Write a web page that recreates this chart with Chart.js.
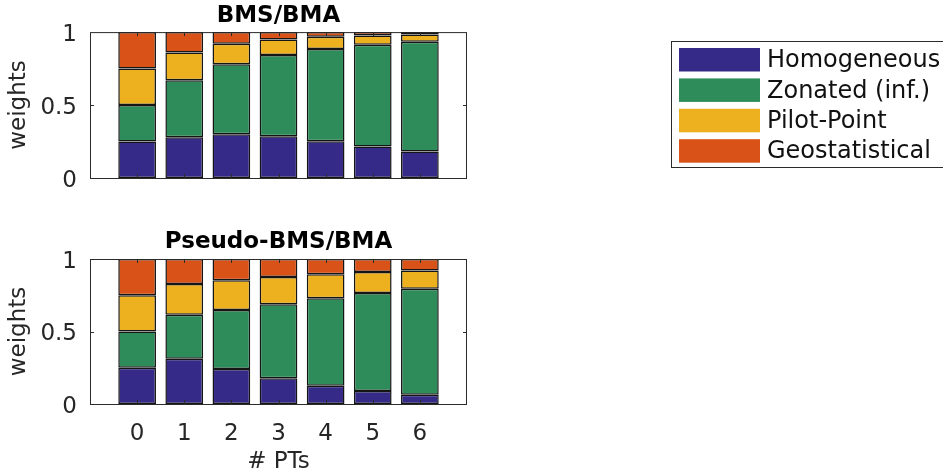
<!DOCTYPE html>
<html>
<head>
<meta charset="utf-8">
<script src="https://cdn.jsdelivr.net/npm/chart.js@4"></script>
<style>
  html, body { margin: 0; padding: 0; background: #fff; }
  #wrap { position: relative; width: 943px; height: 474px; overflow: hidden; }
  canvas { position: absolute; left: 0; }
</style>
</head>
<body>
<div id="wrap">
  <canvas id="bms" width="943" height="200" style="top:0"></canvas>
  <canvas id="pseudo" width="943" height="274" style="top:200px"></canvas>
</div>
<script>
const numPTs = [0, 1, 2, 3, 4, 5, 6];
const modelNames = ['Homogeneous', 'Zonated (inf.)', 'Pilot-Point', 'Geostatistical'];
const modelColors = ['#352a87', '#2e8b5a', '#edb120', '#d95319'];
const yTicks = [0, 0.5, 1];

// BMS/BMA weights
const bmsHomogeneous = [0.25, 0.28, 0.30, 0.286, 0.252, 0.216, 0.182];
const bmsZonated     = [0.25, 0.39, 0.48, 0.557, 0.632, 0.698, 0.752];
const bmsPilotPoint  = [0.25, 0.19, 0.14, 0.107, 0.084, 0.063, 0.05];
const bmsGeostat     = [0.25, 0.14, 0.08, 0.05, 0.032, 0.023, 0.016];

// Pseudo-BMS/BMA weights
const pseudoHomogeneous = [0.25, 0.312, 0.241, 0.177, 0.126, 0.089, 0.064];
const pseudoZonated     = [0.25, 0.303, 0.408, 0.511, 0.603, 0.677, 0.73];
const pseudoPilotPoint  = [0.25, 0.213, 0.204, 0.188, 0.165, 0.144, 0.126];
const pseudoGeostat     = [0.25, 0.172, 0.147, 0.124, 0.106, 0.09, 0.08];

Chart.defaults.font.family = "'DejaVu Sans', sans-serif";
Chart.defaults.color = '#262626';

const axisColor = '#2b2b2b';

// box around the axes with inward tick marks (matlab style)
const boxPlugin = {
  id: 'box',
  afterDatasetsDraw(chart) {
    const { ctx, chartArea: a, scales } = chart;
    ctx.save();
    ctx.strokeStyle = axisColor;
    ctx.lineWidth = 1;
    ctx.strokeRect(a.left + 0.5, a.top + 0.5, a.width - 1, a.height);
    ctx.beginPath();
    numPTs.forEach(v => {
      const x = Math.round(scales.x.getPixelForValue(v)) + 0.5;
      ctx.moveTo(x, a.bottom); ctx.lineTo(x, a.bottom - 4);
      ctx.moveTo(x, a.top); ctx.lineTo(x, a.top + 4);
    });
    yTicks.slice(1, -1).forEach(v => {
      const y = Math.round(scales.y.getPixelForValue(v)) + 0.5;
      ctx.moveTo(a.left, y); ctx.lineTo(a.left + 4, y);
      ctx.moveTo(a.right, y); ctx.lineTo(a.right - 4, y);
    });
    ctx.stroke();
    ctx.restore();
  }
};

const legendPlugin = {
  id: 'sideLegend',
  afterDraw(chart) {
    const ctx = chart.ctx;
    ctx.save();
    ctx.strokeStyle = axisColor;
    ctx.lineWidth = 1;
    ctx.strokeRect(671.5, 41.5, 300, 126);
    ctx.font = "24px 'DejaVu Sans', sans-serif";
    ctx.textBaseline = 'middle';
    chart.data.datasets.forEach((ds, i) => {
      const y = 48 + i * 30.4;
      ctx.fillStyle = ds.backgroundColor;
      ctx.fillRect(679, y, 81, 23.5);
      ctx.fillStyle = '#111';
      ctx.fillText(ds.label, 767, y + 13);
    });
    ctx.restore();
  }
};

function makeChart(canvasId, title, series, opts) {
  const datasets = series.map((vals, k) => ({
    label: modelNames[k],
    data: numPTs.map((x, i) => ({ x: x, y: vals[i] })),
    backgroundColor: modelColors[k],
    borderColor: '#151515',
    borderWidth: 1.5,
    borderSkipped: false,
    barPercentage: 0.8,
    categoryPercentage: 1
  }));
  return new Chart(document.getElementById(canvasId), {
    type: 'bar',
    data: { datasets },
    plugins: opts.plugins,
    options: {
      responsive: false,
      animation: false,
      devicePixelRatio: 1,
      layout: { padding: { left: 0, right: 476, top: 0, bottom: 0 } },
      plugins: {
        legend: { display: false },
        tooltip: { enabled: false },
        title: {
          display: true,
          text: title,
          fullSize: false,
          color: '#000',
          font: { size: 23, weight: 'bold' },
          padding: opts.titlePadding
        }
      },
      scales: {
        x: {
          type: 'linear',
          stacked: true,
          offset: false,
          min: -1,
          max: 7,
          grid: { display: false, drawTicks: false },
          border: { display: false },
          afterBuildTicks: s => { s.ticks = numPTs.map(v => ({ value: v })); },
          afterFit: s => { s.height = opts.xHeight; s.paddingLeft = 0; s.paddingRight = 0; },
          ticks: { display: opts.showX, font: { size: 23 }, padding: 16, maxRotation: 0 },
          title: {
            display: opts.showX,
            text: '# PTs',
            font: { size: 23, lineHeight: 1 },
            padding: { top: 0, bottom: 0 }
          }
        },
        y: {
          stacked: true,
          min: 0,
          max: 1,
          grid: { display: false, drawTicks: false },
          border: { display: false },
          afterBuildTicks: s => { s.ticks = yTicks.map(v => ({ value: v })); },
          afterFit: s => { s.width = 90; s.paddingTop = 0; s.paddingBottom = 0; },
          ticks: { font: { size: 23 }, padding: 13, labelOffset: 3, callback: v => String(v) },
          title: {
            display: true,
            text: 'weights',
            font: { size: 23 },
            padding: { top: 5, bottom: 0 }
          }
        }
      }
    }
  });
}

makeChart('bms', 'BMS/BMA',
  [bmsHomogeneous, bmsZonated, bmsPilotPoint, bmsGeostat],
  { showX: false, xHeight: 22, titlePadding: { top: 2.5, bottom: 2 }, plugins: [boxPlugin, legendPlugin] });

makeChart('pseudo', 'Pseudo-BMS/BMA',
  [pseudoHomogeneous, pseudoZonated, pseudoPilotPoint, pseudoGeostat],
  { showX: true, xHeight: 70, titlePadding: { top: 28.5, bottom: 2.9 }, plugins: [boxPlugin] });
</script>
</body>
</html>
